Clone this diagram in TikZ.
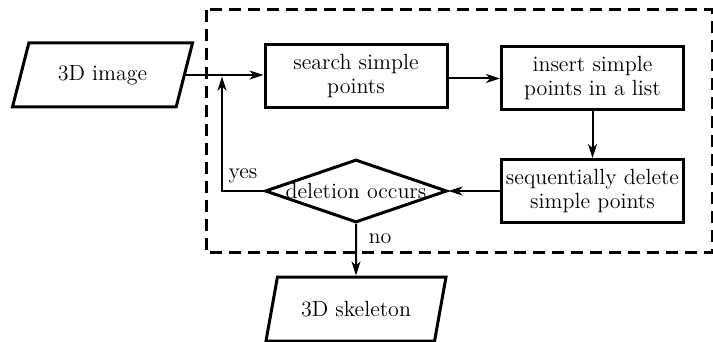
\documentclass[tikz,border=0pt]{standalone}
\usetikzlibrary{shapes.geometric,arrows.meta}

\begin{document}
\begin{tikzpicture}[x=0.5pt,y=-0.5pt,
		font=\fontsize{11}{12}\selectfont,
		>={Stealth[length=7pt,width=4.5pt,inset=2pt]},
		box/.style={draw, line width=1.5pt, minimum width=91pt, minimum height=31.5pt, align=center, inner sep=0pt},
		io/.style={draw, line width=1.5pt, trapezium, trapezium left angle=63, trapezium right angle=117, trapezium stretches=true, minimum width=90.5pt, minimum height=32pt, inner sep=0pt},
		decision/.style={draw, line width=1.5pt, diamond, minimum width=91pt, minimum height=31.5pt, inner sep=0pt},
		flow/.style={line width=1pt, ->}]
		\useasboundingbox (0,0) rectangle (713,342);

		\draw[line width=1.5pt, dash pattern=on 6pt off 3.5pt] (206,10) rectangle (712,253);

		\node[io] (image) at (102.5,75) {3D image};
		\node[box] (search) at (356,76.5) {search simple\\points};
		\node[box] (insert) at (592.5,78.5) {insert simple\\points in a list};
		\node[box] (delete) at (592.5,191) {sequentially delete\\simple points};
		\node[decision, label=center:deletion occurs] (occurs) at (356,191) {};
		\node[io] (skeleton) at (356,309) {3D skeleton};

		\coordinate (turn) at (222,191);
		\coordinate (join) at (222,75);

		\draw[flow] (image.east) -- (search.west |- image.east);
		\draw[flow] (search.east |- insert.west) -- (insert.west);
		\draw[flow] (insert.south) -- (delete.north);
		\draw[flow] (delete.west) -- (occurs.east);
		\draw[flow] (occurs.west) -- (turn) -- ([yshift=-0.8pt]join);
		\draw[flow] (occurs.south) -- (skeleton.north);

		\node at (243,176) {yes};
		\node at (380,239) {no};

	\end{tikzpicture}
\end{document}
